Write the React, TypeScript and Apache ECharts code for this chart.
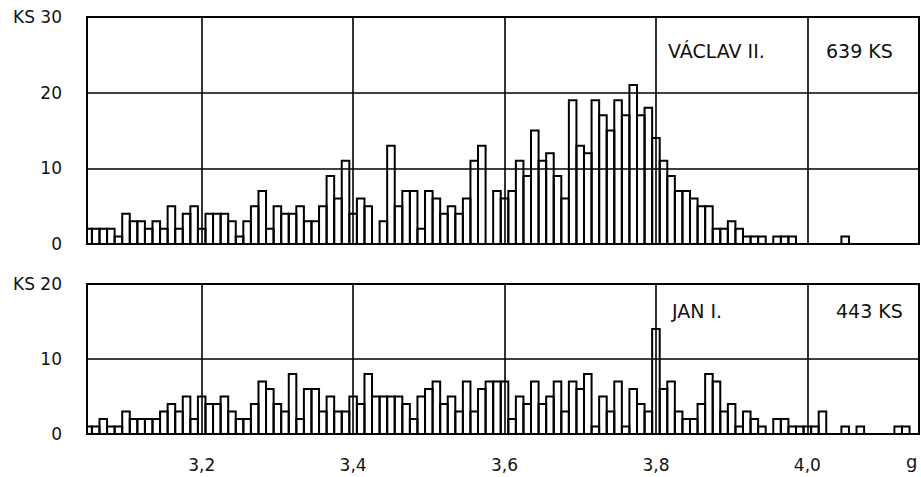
import React, { useEffect, useRef } from 'react';
import * as echarts from 'echarts';

// Weight bins of 0.01 g, first bin centred at 3.05 g
const BIN_START = 3.05;
const BIN_STEP = 0.01;

// VÁCLAV II. – 639 KS
const vaclavCounts = [
  2, 2, 2, 2, 1, 4, 3, 3, 2, 3, 2, 5, 2, 4, 5, 2, 4, 4, 4,
  3, 1, 3, 5, 7, 2, 5, 4, 4, 5, 3, 3, 5, 9, 6, 11, 4, 6,
  5, 0, 3, 13, 5, 7, 7, 2, 7, 6, 4, 5, 4, 6, 11, 13, 0, 7, 6, 7,
  11, 9, 15, 11, 12, 9, 6, 19, 13, 12, 19, 17, 15, 19, 17, 21, 17, 18,
  14, 11, 9, 7, 7, 6, 5, 5, 2, 2, 3, 2, 1, 1, 1, 0, 1, 1, 1,
  0, 0, 0, 0, 0, 0,
  1,
  0, 0, 0, 0, 0, 0, 0, 0, 0,
];

// JAN I. – 443 KS
const janCounts = [
  1, 1, 2, 1, 1, 3, 2, 2, 2, 2, 3, 4, 3, 5, 2, 5, 4, 4, 5,
  3, 2, 2, 4, 7, 6, 4, 3, 8, 2, 6, 6, 3, 5, 3, 3, 5, 4,
  8, 5, 5, 5, 5, 4, 2, 5, 6, 7, 4, 5, 3, 7, 3, 6, 7, 7, 7, 2,
  5, 4, 7, 4, 5, 7, 3, 7, 6, 8, 1, 5, 3, 7, 1, 6, 4, 3,
  14, 6, 7, 3, 2, 2, 4, 8, 7, 3, 4, 1, 3, 2, 1, 0, 2, 2, 1, 1, 1, 1, 3, 0, 0,
  1, 0, 1, 0, 0, 0, 0, 1, 1, 0,
];

const xTicks = [3.2, 3.4, 3.6, 3.8, 4.0];
const X_MIN = 3.0485;
const X_MAX = 4.1475;

const FONT = 'DejaVu Sans';
const INK = '#111';

export default function App() {
  const ref = useRef<HTMLDivElement>(null);

  useEffect(() => {
    if (!ref.current) return;
    const chart = echarts.init(ref.current, null, { renderer: 'svg' });

    const left = 87;
    const right = 2;

    const toPairs = (arr: number[]) =>
      arr.map((v, i) => [+(BIN_START + i * BIN_STEP).toFixed(2), v]);

    const renderBar = (params: any, api: any) => {
      const x = api.value(0);
      const y = api.value(1);
      if (!y) return null;
      const cs = params.coordSys;
      const p0 = api.coord([x - BIN_STEP / 2, y]);
      const p1 = api.coord([x + BIN_STEP / 2, 0]);
      const x0 = Math.max(p0[0], cs.x);
      const x1 = Math.min(p1[0], cs.x + cs.width);
      return {
        type: 'rect',
        shape: { x: x0, y: p0[1], width: x1 - x0, height: p1[1] - p0[1] },
        style: { fill: 'none', stroke: '#000', lineWidth: 2 },
      };
    };

    const gridLines = {
      silent: true,
      symbol: ['none', 'none'],
      label: { show: false },
      lineStyle: { color: '#000', width: 1.6, type: 'solid' },
      emphasis: { disabled: true },
      data: xTicks.map((v) => ({ xAxis: v })),
    };

    const yLabel = (top: number) => ({
      fontSize: 17,
      fontFamily: FONT,
      color: INK,
      margin: 25,
      formatter: (v: number) => (v === top ? 'KS ' + v : String(v)),
    });

    const xCommon = {
      type: 'value',
      min: X_MIN,
      max: X_MAX,
      axisLine: { show: false },
      axisTick: { show: false },
      splitLine: { show: false },
    };

    chart.setOption({
      animation: false,
      backgroundColor: '#fff',
      grid: [
        { left, right, top: 17, height: 227, show: true, borderColor: '#000', borderWidth: 2, backgroundColor: 'transparent' },
        { left, right, top: 284, height: 150, show: true, borderColor: '#000', borderWidth: 2, backgroundColor: 'transparent' },
      ],
      xAxis: [
        { ...xCommon, gridIndex: 0, axisLabel: { show: false } },
        {
          ...xCommon,
          gridIndex: 1,
          axisLabel: {
            show: true,
            customValues: xTicks,
            fontSize: 17,
            fontFamily: FONT,
            color: INK,
            margin: 22,
            formatter: (v: number) => v.toFixed(1).replace('.', ','),
          },
        },
      ],
      yAxis: [
        {
          type: 'value', gridIndex: 0, min: 0, max: 30, interval: 10,
          axisLine: { show: false }, axisTick: { show: false },
          splitLine: { show: true, lineStyle: { color: '#000', width: 1.6 } },
          axisLabel: yLabel(30),
        },
        {
          type: 'value', gridIndex: 1, min: 0, max: 20, interval: 10,
          axisLine: { show: false }, axisTick: { show: false },
          splitLine: { show: true, lineStyle: { color: '#000', width: 1.6 } },
          axisLabel: yLabel(20),
        },
      ],
      series: [
        {
          name: 'VÁCLAV II.',
          type: 'custom',
          xAxisIndex: 0,
          yAxisIndex: 0,
          encode: { x: 0, y: 1 },
          renderItem: renderBar,
          data: toPairs(vaclavCounts),
          silent: true,
        },
        {
          name: 'JAN I.',
          type: 'custom',
          xAxisIndex: 1,
          yAxisIndex: 1,
          encode: { x: 0, y: 1 },
          renderItem: renderBar,
          data: toPairs(janCounts),
          silent: true,
        },
        {
          type: 'line', xAxisIndex: 0, yAxisIndex: 0, data: [], markLine: gridLines, silent: true,
        },
        {
          type: 'line', xAxisIndex: 1, yAxisIndex: 1, data: [], markLine: gridLines, silent: true,
        },
      ],
      graphic: [
        { type: 'text', left: 668, top: 41, style: { text: 'VÁCLAV II.', font: `19px "${FONT}"`, fill: INK } },
        { type: 'text', left: 826, top: 41, style: { text: '639 KS', font: `19px "${FONT}"`, fill: INK } },
        { type: 'text', left: 672, top: 301, style: { text: 'JAN I.', font: `19px "${FONT}"`, fill: INK } },
        { type: 'text', left: 836, top: 301, style: { text: '443 KS', font: `19px "${FONT}"`, fill: INK } },
        { type: 'text', left: 906, top: 452, style: { text: 'g', font: `18px "${FONT}"`, fill: INK } },
      ],
    });

    return () => chart.dispose();
  }, []);

  return (
    <div
      ref={ref}
      style={{ position: 'fixed', left: 0, top: 0, width: 921, height: 477, background: '#fff' }}
    />
  );
}
